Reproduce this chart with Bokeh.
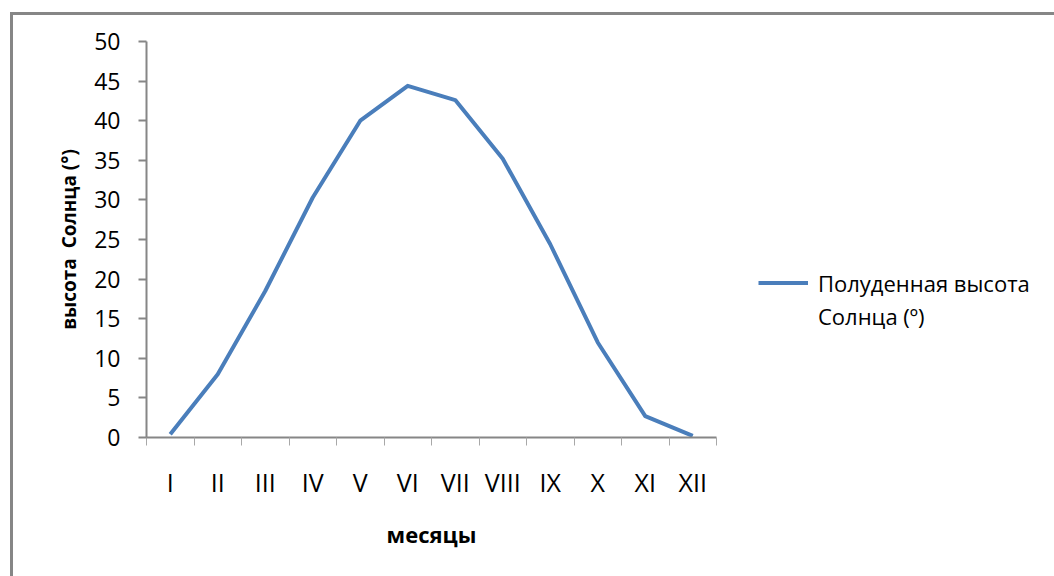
from bokeh.plotting import figure
from bokeh.models import Range1d, LinearAxis, FixedTicker, Legend, LegendItem
from bokeh.embed import file_html
from bokeh.resources import INLINE

# Noon altitude of the Sun for each month
months = ["I", "II", "III", "IV", "V", "VI", "VII", "VIII", "IX", "X", "XI", "XII"]
altitude = [0.4, 8.0, 18.5, 30.3, 40.0, 44.4, 42.6, 35.2, 24.4, 12.0, 2.7, 0.2]
y_ticks = [0, 5, 10, 15, 20, 25, 30, 35, 40, 45, 50]

legend_lines = ["Полуденная высота", "Солнца (º)"]
x_title = "месяцы"
y_title = "высота\u00a0 Солнца (°)"

FONT = "Open Sans"
GRID = "#868686"
LINE = "#4A7EBB"

# month i sits in the middle of slot [i, i+1]
x_pos = [i + 0.5 for i in range(len(months))]

p = figure(frame_width=570, frame_height=396, output_backend="svg", toolbar_location=None,
           x_range=Range1d(0, len(months)), y_range=Range1d(0, 50),
           x_axis_type=None, y_axis_type=None,
           min_border_left=133, min_border_right=0,
           min_border_top=26, min_border_bottom=139)
p.outline_line_color = None
p.background_fill_color = "white"
p.border_fill_color = "white"
# chart-area frame: grey rule along the top and left edges
p.margin = (12, 0, 0, 10)
p.styles = {"border-left": f"3px solid {GRID}", "border-top": f"3px solid {GRID}"}

# y axis
yax = LinearAxis(ticker=FixedTicker(ticks=y_ticks, minor_ticks=[]))
yax.axis_line_color = GRID
yax.axis_line_width = 2
yax.major_tick_line_color = GRID
yax.major_tick_line_width = 2
yax.major_tick_out = 8
yax.major_tick_in = 0
yax.minor_tick_line_color = None
yax.major_label_text_font = FONT
yax.major_label_text_font_size = "23px"
yax.major_label_text_color = "black"
yax.major_label_standoff = 18
yax.axis_label = y_title
yax.axis_label_text_font = FONT
yax.axis_label_text_font_style = "bold"
yax.axis_label_text_font_size = "19px"
yax.axis_label_text_color = "black"
yax.axis_label_standoff = 9
p.add_layout(yax, "left")

# x axis: labels at slot centres, small marks at slot boundaries
xax = LinearAxis(ticker=FixedTicker(ticks=x_pos, minor_ticks=list(range(len(months) + 1))))
xax.major_label_overrides = {x: m for x, m in zip(x_pos, months)}
xax.axis_line_color = GRID
xax.axis_line_width = 2
xax.major_tick_line_color = None
xax.minor_tick_line_color = "#a8a8a8"
xax.minor_tick_line_width = 1
xax.minor_tick_out = 8
xax.minor_tick_in = 0
xax.major_label_text_font = FONT
xax.major_label_text_font_size = "25px"
xax.major_label_text_color = "black"
xax.major_label_standoff = 19
xax.axis_label = x_title
xax.axis_label_text_font = FONT
xax.axis_label_text_font_style = "bold"
xax.axis_label_text_font_size = "22px"
xax.axis_label_text_color = "black"
xax.axis_label_standoff = 17
p.add_layout(xax, "below")

p.xgrid.visible = False
p.ygrid.ticker = FixedTicker(ticks=y_ticks)
p.ygrid.grid_line_color = GRID
p.ygrid.grid_line_width = 2

r = p.line(x_pos, altitude, line_color=LINE, line_width=4, line_join="round")
# second legend row carries only text
r_blank = p.line(x_pos, altitude, line_alpha=0)

legend = Legend(items=[LegendItem(label=legend_lines[0], renderers=[r]),
                       LegendItem(label=legend_lines[1], renderers=[r_blank])],
                location=(42, 105), orientation="vertical")
legend.border_line_color = None
legend.background_fill_alpha = 0
legend.glyph_width = 50
legend.glyph_height = 33
legend.label_height = 33
legend.label_standoff = 10
legend.spacing = 0
legend.padding = 0
legend.margin = 0
legend.label_text_font = FONT
legend.label_text_font_size = "22px"
legend.label_text_color = "black"
legend.label_text_baseline = "middle"
p.add_layout(legend, "right")

open("out.html", "w").write(file_html(p, INLINE))
